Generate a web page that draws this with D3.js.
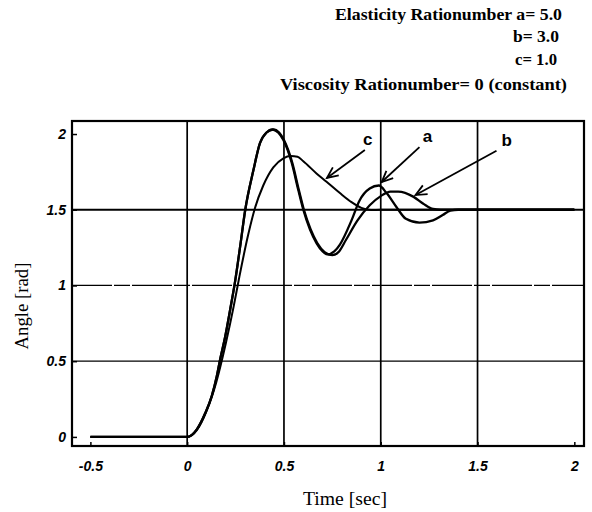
<!DOCTYPE html>
<html><head><meta charset="utf-8">
<script src="https://cdn.jsdelivr.net/npm/d3@7"></script>
<style>body{margin:0;background:#fff}</style>
</head><body>
<svg id="chart" width="592" height="512"></svg>
<script>
// ---- data (time [sec], angle [rad]) ----
const seriesA = [[-0.5,0],[0,0],[0.05,0.05],[0.093,0.156],[0.127,0.27],[0.153,0.40],[0.17,0.51],[0.196,0.66],[0.222,0.84],[0.248,1.03],[0.275,1.27],[0.30,1.50],[0.342,1.76],[0.376,1.94],[0.41,2.01],[0.44,2.03],[0.47,2.01],[0.497,1.96],[0.54,1.81],[0.574,1.63],[0.60,1.50],[0.634,1.37],[0.668,1.28],[0.70,1.225],[0.725,1.205],[0.76,1.225],[0.789,1.27],[0.849,1.43],[0.89,1.56],[0.943,1.64],[0.99,1.66],[1.03,1.61],[1.08,1.52],[1.13,1.44],[1.20,1.415],[1.27,1.43],[1.32,1.465],[1.36,1.495],[1.40,1.5],[1.7,1.5],[2.0,1.5]];
const seriesB = [[-0.5,0],[0,0],[0.05,0.05],[0.093,0.156],[0.127,0.27],[0.153,0.40],[0.17,0.51],[0.196,0.66],[0.222,0.84],[0.248,1.03],[0.275,1.27],[0.30,1.50],[0.342,1.76],[0.376,1.94],[0.41,2.01],[0.445,2.03],[0.475,2.01],[0.50,1.96],[0.543,1.81],[0.577,1.63],[0.603,1.50],[0.638,1.37],[0.672,1.28],[0.71,1.22],[0.75,1.20],[0.785,1.225],[0.82,1.30],[0.88,1.43],[0.943,1.53],[1.0,1.59],[1.05,1.62],[1.09,1.62],[1.17,1.585],[1.22,1.54],[1.27,1.505],[1.31,1.5],[1.7,1.5],[2.0,1.5]];
const seriesC = [[-0.5,0],[0,0],[0.05,0.045],[0.1,0.17],[0.15,0.36],[0.2,0.62],[0.24,0.86],[0.27,1.06],[0.316,1.34],[0.35,1.51],[0.393,1.66],[0.445,1.78],[0.497,1.84],[0.535,1.855],[0.57,1.85],[0.60,1.82],[0.668,1.74],[0.72,1.685],[0.789,1.61],[0.849,1.55],[0.90,1.512],[0.95,1.498],[1.0,1.5],[1.5,1.5],[2.0,1.5]];
const seriesNames = ["a","b","c"];
const xTicks = [-0.5,0,0.5,1,1.5,2];
const xTickLabels = ["-0.5","0","0.5","1","1.5","2"];
const yTicks = [0,0.5,1,1.5,2];
const yTickLabels = ["0","0.5","1","1.5","2"];
const xGrid = [0,0.5,1,1.5];
const yGridSolid = [0.5,1.5];
const yGridDashed = [1];
// annotation label positions and arrows in data units: [name, labelT, labelY, fromT, fromY, tipT, tipY]
const annotations = [
  ["c", 0.933, 1.93, 0.918, 1.894, 0.722, 1.71],
  ["a", 1.242, 1.95, 1.20, 1.914, 1.005, 1.683],
  ["b", 1.65, 1.92, 1.598, 1.89, 1.18, 1.597]
];
const titleLines = ["Elasticity Rationumber a= 5.0","b= 3.0","c= 1.0","Viscosity Rationumber= 0 (constant)"];

// ---- chart ----
const svg = d3.select("#chart");
const x = d3.scaleLinear().domain([-0.595, 2.05]).range([72, 584]);
const y = d3.scaleLinear().domain([-0.06, 2.086]).range([446, 121]);
const serif = "'Liberation Serif', 'Times New Roman', serif";
const sans = "'Liberation Sans', Arial, sans-serif";

// gridlines
svg.selectAll("line.vg").data(xGrid).join("line")
  .attr("x1", d=>x(d)).attr("x2", d=>x(d)).attr("y1", y.range()[0]).attr("y2", y.range()[1])
  .attr("stroke","#000").attr("stroke-width",1.7);
svg.selectAll("line.hg").data(yGridSolid).join("line")
  .attr("x1", x.range()[0]).attr("x2", x.range()[1]).attr("y1", d=>y(d)).attr("y2", d=>y(d))
  .attr("stroke","#000").attr("stroke-width", d=> d===1.5?1.9:1.2);
svg.selectAll("line.hgd").data(yGridDashed).join("line")
  .attr("x1", x.range()[0]).attr("x2", x.range()[1]).attr("y1", d=>y(d)).attr("y2", d=>y(d))
  .attr("stroke","#000").attr("stroke-width",1.2).attr("stroke-dasharray","40,2,16,2");

// axes
const xAxis = d3.axisBottom(x).tickValues(xTicks).tickFormat((d,i)=>xTickLabels[i]).tickSize(-4).tickPadding(15);
const yAxis = d3.axisLeft(y).tickValues(yTicks).tickFormat((d,i)=>yTickLabels[i]).tickSize(-5).tickPadding(6);
const gx = svg.append("g").attr("transform",`translate(0,${y.range()[0]})`).call(xAxis);
const gy = svg.append("g").attr("transform",`translate(${x.range()[0]},0)`).call(yAxis);
[gx,gy].forEach(g=>{
  g.select(".domain").remove();
  g.selectAll(".tick line").attr("stroke","#000").attr("stroke-width",1.5);
  g.selectAll(".tick text").attr("fill","#000").style("font-family",sans)
    .style("font-style","italic").style("font-weight","bold").style("font-size","14px");
});

// frame
svg.append("rect").attr("x",x.range()[0]).attr("y",y.range()[1])
  .attr("width",x.range()[1]-x.range()[0]).attr("height",y.range()[0]-y.range()[1])
  .attr("fill","none").attr("stroke","#000").attr("stroke-width",2.2);

// curves
const line = d3.line().x(d=>x(d[0])).y(d=>y(d[1])).curve(d3.curveMonotoneX);
const curves = [seriesA, seriesB, seriesC];
svg.selectAll("path.curve").data(curves).join("path")
  .attr("class","curve").attr("d", line).attr("fill","none")
  .attr("stroke","#000").attr("stroke-width",(d,i)=> i===2?2:2.3).attr("stroke-linejoin","round");

// arrows
svg.append("defs").append("marker").attr("id","arr").attr("viewBox","-12 -6 14 12")
  .attr("markerWidth",14).attr("markerHeight",12).attr("refX",0).attr("refY",0)
  .attr("orient","auto").attr("markerUnits","userSpaceOnUse")
  .append("path").attr("d","M-11,-5 L0,0 L-11,5").attr("fill","none").attr("stroke","#000").attr("stroke-width",1.8);
svg.selectAll("line.arrow").data(annotations).join("line")
  .attr("x1",d=>x(d[3])).attr("y1",d=>y(d[4])).attr("x2",d=>x(d[5])).attr("y2",d=>y(d[6]))
  .attr("stroke","#000").attr("stroke-width",1.8).attr("marker-end","url(#arr)");
svg.selectAll("text.ann").data(annotations).join("text")
  .attr("x",d=>x(d[1])).attr("y",d=>y(d[2])).attr("text-anchor","middle")
  .style("font-family",sans).style("font-weight","bold").style("font-size","17px").text(d=>d[0]);

// title block
const tf = svg.append("g").style("font-family",serif).style("font-weight","bold").style("font-size","17px");
tf.append("text").attr("x",562).attr("y",20).attr("text-anchor","end").attr("textLength",227).attr("lengthAdjust","spacingAndGlyphs").text(titleLines[0]);
tf.append("text").attr("x",513).attr("y",42).attr("textLength",46).attr("lengthAdjust","spacingAndGlyphs").text(titleLines[1]);
tf.append("text").attr("x",515).attr("y",65).attr("textLength",42).attr("lengthAdjust","spacingAndGlyphs").text(titleLines[2]);
tf.append("text").attr("x",280).attr("y",90).attr("textLength",287).attr("lengthAdjust","spacingAndGlyphs").text(titleLines[3]);

// axis titles
svg.append("text").attr("x",345).attr("y",505).attr("text-anchor","middle")
  .style("font-family",serif).style("font-size","18px").attr("textLength",84).attr("lengthAdjust","spacingAndGlyphs").text("Time [sec]");
svg.append("text").attr("transform","translate(28,306) rotate(-90)").attr("text-anchor","middle")
  .style("font-family",serif).style("font-size","18px").attr("textLength",87).attr("lengthAdjust","spacingAndGlyphs").text("Angle [rad]");
</script>
</body></html>
